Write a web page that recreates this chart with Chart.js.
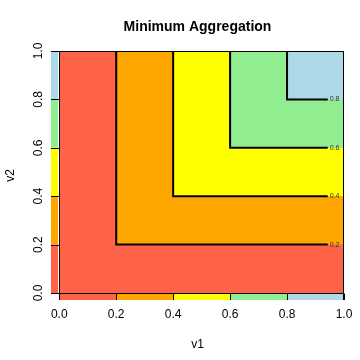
<!DOCTYPE html>
<html>
<head>
<meta charset="utf-8">
<script src="https://cdn.jsdelivr.net/npm/chart.js@4.4.0/dist/chart.umd.min.js"></script>
<style>
  html, body { margin: 0; padding: 0; background: #fff; }
  #chart { display: block; }
</style>
</head>
<body>
<canvas id="chart" width="360" height="360"></canvas>
<script>
// ===== Data =====
const breaks = [0, 0.2, 0.4, 0.6, 0.8, 1.0];
const bandColors = ["#FF6347", "#FFA500", "#FFFF00", "#90EE90", "#ADD8E6"];
const levels = [0.2, 0.4, 0.6, 0.8];
const tickVals = [0, 0.2, 0.4, 0.6, 0.8, 1.0];

// ===== Layout bits =====
const axisMin = -0.029;   // leaves room for the margin colour strips
const stripGap = -0.0035; // 1px white gap left of the v1 = 0 line
const lineEnd = 0.943;    // contour lines stop where the label starts
const labelAt = 0.967;
const font12 = { family: "'Liberation Sans', Arial, sans-serif", size: 12 };

const datasets = [];

// filled regions: min(v1, v2) >= lo is the square [lo,1] x [lo,1]
bandColors.forEach((col, i) => {
  const lo = breaks[i];
  datasets.push({
    data: [{ x: lo, y: 1 }, { x: 1, y: 1 }],
    backgroundColor: col,
    borderWidth: 0,
    pointRadius: 0,
    fill: { value: lo },
    order: 20 - i
  });
});

// margin strips (left: by v2, bottom: by v1)
bandColors.forEach((col, i) => {
  const lo = breaks[i], hi = breaks[i + 1];
  datasets.push({
    data: [{ x: axisMin, y: hi }, { x: stripGap, y: hi }],
    backgroundColor: col, borderWidth: 0, pointRadius: 0,
    fill: { value: lo }, order: 10
  });
  datasets.push({
    data: [{ x: lo, y: 0 }, { x: hi, y: 0 }],
    backgroundColor: col, borderWidth: 0, pointRadius: 0,
    fill: { value: axisMin }, order: 10
  });
});

// contour lines
levels.forEach(a => {
  datasets.push({
    data: [{ x: a, y: 1 }, { x: a, y: a }, { x: lineEnd, y: a }],
    borderColor: "#000",
    borderWidth: 2,
    pointRadius: 0,
    fill: false,
    order: 0
  });
});

// frame, axis lines, ticks and contour labels
const framePlugin = {
  id: "frame",
  afterDatasetsDraw(chart) {
    const { ctx, chartArea: a, scales: { x, y } } = chart;
    const x0 = Math.round(x.getPixelForValue(0)) + 0.5;
    const y0 = Math.round(y.getPixelForValue(0)) + 0.5;
    const top = Math.round(a.top) + 0.5;
    const right = Math.round(a.right) - 0.5;
    ctx.save();
    ctx.strokeStyle = "#000";
    ctx.lineWidth = 1;
    ctx.beginPath();
    ctx.moveTo(a.left, top); ctx.lineTo(right, top);
    ctx.moveTo(right, a.top); ctx.lineTo(right, a.bottom);
    ctx.moveTo(a.left, y0); ctx.lineTo(a.right, y0);
    ctx.moveTo(x0, a.top); ctx.lineTo(x0, a.bottom);
    tickVals.forEach(v => {
      const px = Math.round(x.getPixelForValue(v)) + 0.5;
      ctx.moveTo(px, y0); ctx.lineTo(px, a.bottom);
      const py = Math.round(y.getPixelForValue(v)) + 0.5;
      ctx.moveTo(a.left, py); ctx.lineTo(x0, py);
    });
    ctx.stroke();

    ctx.font = "7px 'Liberation Sans', Arial, sans-serif";
    ctx.fillStyle = "#333";
    ctx.textAlign = "center";
    ctx.textBaseline = "middle";
    levels.forEach(v => {
      ctx.fillText(v.toFixed(1), x.getPixelForValue(labelAt), y.getPixelForValue(v));
    });
    ctx.restore();
  }
};

const setTicks = scale => { scale.ticks = tickVals.map(v => ({ value: v })); };

new Chart(document.getElementById("chart"), {
  type: "line",
  data: { datasets },
  options: {
    responsive: false,
    animation: false,
    layout: { padding: { right: 16 } },
    plugins: {
      legend: { display: false },
      tooltip: { enabled: false },
      title: {
        display: true,
        fullSize: false,
        text: "Minimum Aggregation",
        color: "#000",
        font: { family: font12.family, size: 14, weight: "bold" },
        padding: { top: 18.9, bottom: 15.3 }
      }
    },
    scales: {
      x: {
        type: "linear", min: axisMin, max: 1,
        afterBuildTicks: setTicks,
        grid: { display: false, drawTicks: false },
        border: { display: false },
        ticks: { color: "#000", font: font12, padding: 7.6, maxRotation: 0, autoSkip: false,
                 callback: v => v.toFixed(1) },
        title: { display: true, text: "v1", color: "#000", font: font12,
                 padding: { top: 8, bottom: 8 } }
      },
      y: {
        type: "linear", min: axisMin, max: 1,
        afterBuildTicks: setTicks,
        grid: { display: false, drawTicks: false },
        border: { display: false },
        ticks: { color: "#000", font: font12, padding: 4.16, minRotation: 90, maxRotation: 90,
                 crossAlign: "center", autoSkip: false, callback: v => v.toFixed(1) },
        title: { display: true, text: "v2", color: "#000", font: font12,
                 padding: { top: 3.6, bottom: 10.28 } }
      }
    }
  },
  plugins: [framePlugin]
});
</script>
</body>
</html>
